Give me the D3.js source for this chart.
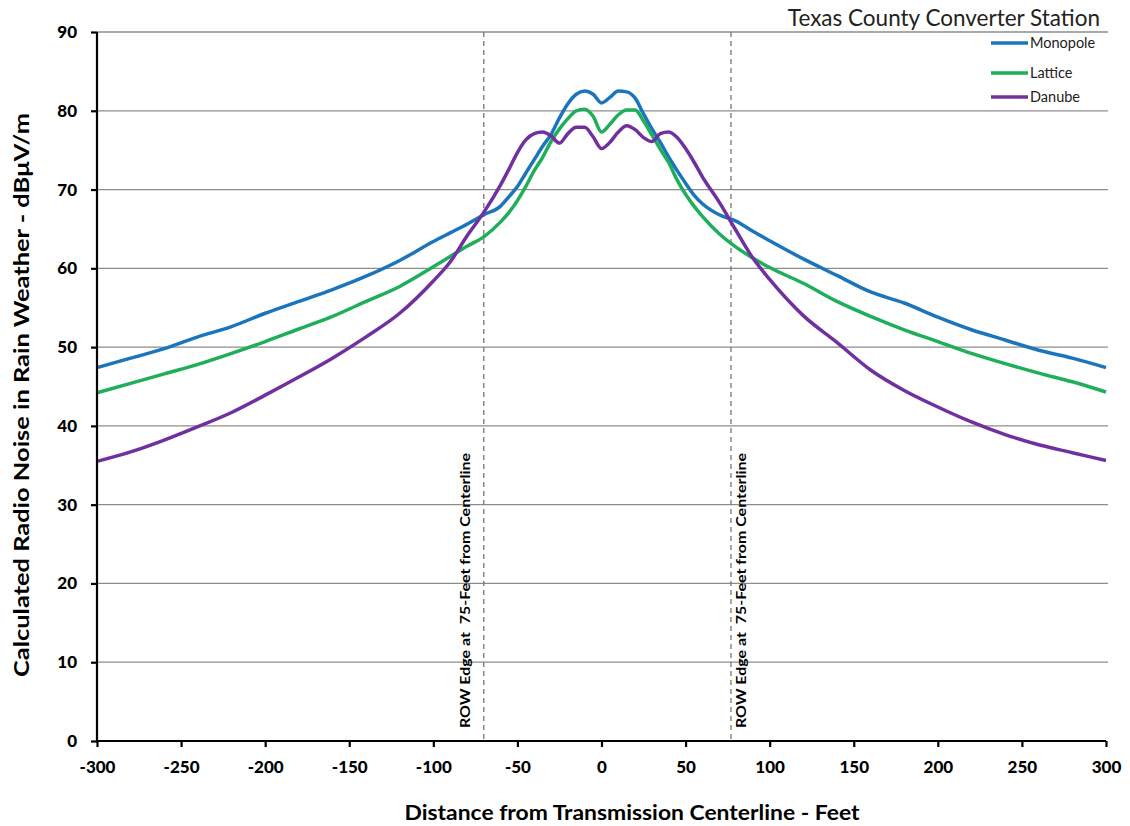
<!DOCTYPE html>
<html>
<head>
<meta charset="utf-8">
<script src="https://cdn.jsdelivr.net/npm/d3@7"></script>
<style>
  body { margin: 0; background: #fff; }
  svg { font-family: Lato, "Open Sans", sans-serif; }
</style>
</head>
<body>
<div id="chart"></div>
<script>
// distance from centerline (feet)
const distances = [-300, -280, -260, -240, -220, -200, -180, -160, -140, -120, -100, -90, -80, -70, -60,
  -55, -50, -45, -40, -35, -30, -25, -20, -15, -10, -5, 0, 5, 10, 15, 20, 25, 30, 35, 40, 45, 50, 55, 60,
  70, 80, 90, 100, 120, 140, 160, 180, 200, 220, 240, 260, 280, 300];

const monopole = [47.4, 48.6, 49.8, 51.3, 52.6, 54.3, 55.8, 57.3, 59.0, 61.0, 63.4, 64.5, 65.6, 66.8, 67.9,
  69.1, 70.4, 72.1, 73.8, 75.5, 77.0, 79.1, 80.9, 82.1, 82.5, 82.1, 81.0, 81.7, 82.5, 82.4, 81.6, 79.6, 77.7, 76.0, 74.1, 72.4, 70.8, 69.3, 68.2,
  66.8, 66.0, 64.7, 63.5, 61.2, 59.1, 57.0, 55.6, 53.8, 52.2, 50.9, 49.6, 48.6, 47.4];

const lattice = [44.2, 45.4, 46.6, 47.8, 49.2, 50.7, 52.3, 53.9, 55.8, 57.7, 60.2, 61.5, 62.8, 64.0, 65.9,
  67.1, 68.6, 70.4, 72.4, 74.1, 76.1, 77.7, 79.0, 80.0, 80.2, 79.3, 77.3, 78.3, 79.5, 80.1, 80.1, 78.7, 76.9, 75.1, 73.4, 71.2, 69.4, 67.9, 66.6,
  64.4, 62.7, 61.3, 60.1, 58.1, 55.8, 53.9, 52.2, 50.7, 49.2, 47.9, 46.7, 45.6, 44.3];

const danube = [35.5, 36.7, 38.2, 39.9, 41.7, 43.9, 46.2, 48.6, 51.3, 54.3, 58.4, 60.8, 64.1, 67.1, 70.6,
  72.6, 74.7, 76.3, 77.1, 77.3, 76.8, 75.9, 77.1, 77.9, 77.9, 76.7, 75.2, 76.0, 77.3, 78.1, 77.6, 76.6, 76.1, 77.1, 77.3, 76.6, 75.2, 73.5, 71.6,
  68.4, 64.8, 61.3, 58.6, 54.0, 50.6, 47.1, 44.5, 42.4, 40.5, 38.9, 37.6, 36.6, 35.6];

const seriesNames = ['Monopole', 'Lattice', 'Danube'];
const seriesColors = ['#1b75bc', '#1fae5a', '#7030a0'];
const rowEdges = [-70, 77];
const xTicks = [-300, -250, -200, -150, -100, -50, 0, 50, 100, 150, 200, 250, 300];
const yTicks = [0, 10, 20, 30, 40, 50, 60, 70, 80, 90];

const width = 1130;
const height = 826;
const margin = {top: 32, right: 24, bottom: 85, left: 97};

const svg = d3.select('#chart').append('svg')
  .attr('width', width)
  .attr('height', height);

const x = d3.scaleLinear().domain([-300, 300]).range([margin.left, width - margin.right]);
const y = d3.scaleLinear().domain([0, 90]).range([height - margin.bottom, margin.top]);

// gridlines
svg.append('g')
  .selectAll('line')
  .data(yTicks.filter(d => d > 0))
  .join('line')
  .attr('x1', margin.left)
  .attr('x2', width - margin.right + 2)
  .attr('y1', d => y(d))
  .attr('y2', d => y(d))
  .attr('stroke', '#8c8c8c')
  .attr('stroke-width', 1.3);

// ROW edge markers
svg.append('g')
  .selectAll('line')
  .data(rowEdges)
  .join('line')
  .attr('x1', d => x(d))
  .attr('x2', d => x(d))
  .attr('y1', y(90))
  .attr('y2', y(0))
  .attr('stroke', '#777')
  .attr('stroke-width', 1.3)
  .attr('stroke-dasharray', '5,4');

svg.append('g')
  .selectAll('text')
  .data(rowEdges)
  .join('text')
  .attr('transform', (d, i) => `translate(${x(d) + (i === 0 ? -14 : 15)},${728}) rotate(-90)`)
  .attr('font-size', 13)
  .attr('font-weight', 'bold')
  .attr('textLength', 275)
  .attr('lengthAdjust', 'spacingAndGlyphs')
  .text('ROW Edge at  75-Feet from Centerline')
  .style('white-space', 'pre');

// series lines
const line = d3.line()
  .x((d, i) => x(distances[i]))
  .y(d => y(d))
  .curve(d3.curveMonotoneX);

const series = [monopole, lattice, danube];
svg.append('g')
  .attr('fill', 'none')
  .attr('stroke-width', 3.5)
  .attr('stroke-linejoin', 'round')
  .selectAll('path')
  .data(series)
  .join('path')
  .attr('stroke', (d, i) => seriesColors[i])
  .attr('d', line);

// axes
const xAxis = svg.append('g')
  .attr('transform', `translate(0,${y(0)})`)
  .call(d3.axisBottom(x).tickValues(xTicks).tickSize(6).tickPadding(14).tickFormat(d => String(d)));

const yAxis = svg.append('g')
  .attr('transform', `translate(${margin.left},0)`)
  .call(d3.axisLeft(y).tickValues(yTicks).tickSize(6).tickPadding(14).tickFormat(d => String(d)));

[xAxis, yAxis].forEach(g => {
  g.select('.domain').attr('stroke', '#000').attr('stroke-width', 2.2);
  g.selectAll('.tick line').attr('stroke', '#000').attr('stroke-width', 2.2);
  g.selectAll('.tick text')
    .attr('fill', '#000')
    .attr('font-family', 'Lato, sans-serif')
    .attr('font-size', 17)
    .attr('font-weight', 900);
});
xAxis.select('.domain').attr('d', `M${x(-300)},0H${x(300)}`);
yAxis.select('.domain').attr('d', `M0,${y(0)}V${y(90)}`);

// axis titles
svg.append('text')
  .attr('x', 632)
  .attr('y', 820)
  .attr('text-anchor', 'middle')
  .attr('font-size', 21)
  .attr('font-weight', 'bold')
  .attr('textLength', 455)
  .attr('lengthAdjust', 'spacingAndGlyphs')
  .text('Distance from Transmission Centerline - Feet');

svg.append('text')
  .attr('transform', `translate(29,${395}) rotate(-90)`)
  .attr('text-anchor', 'middle')
  .attr('font-size', 21)
  .attr('font-weight', 'bold')
  .attr('textLength', 564)
  .attr('lengthAdjust', 'spacingAndGlyphs')
  .text('Calculated Radio Noise in Rain Weather - dBμV/m');

// chart title
svg.append('text')
  .attr('x', 1100)
  .attr('y', 26)
  .attr('text-anchor', 'end')
  .attr('font-size', 22.5)
  .attr('fill', '#222')
  .text('Texas County Converter Station');

// legend
const legend = svg.append('g')
  .selectAll('g')
  .data(seriesNames)
  .join('g')
  .attr('transform', (d, i) => `translate(991,${[43, 73, 97][i]})`);

legend.append('line')
  .attr('x1', 0)
  .attr('x2', 37)
  .attr('stroke', (d, i) => seriesColors[i])
  .attr('stroke-width', 3.5);

legend.append('text')
  .attr('x', 39)
  .attr('dy', '0.35em')
  .attr('font-size', 14.5)
  .attr('fill', '#222')
  .text(d => d);
</script>
</body>
</html>
